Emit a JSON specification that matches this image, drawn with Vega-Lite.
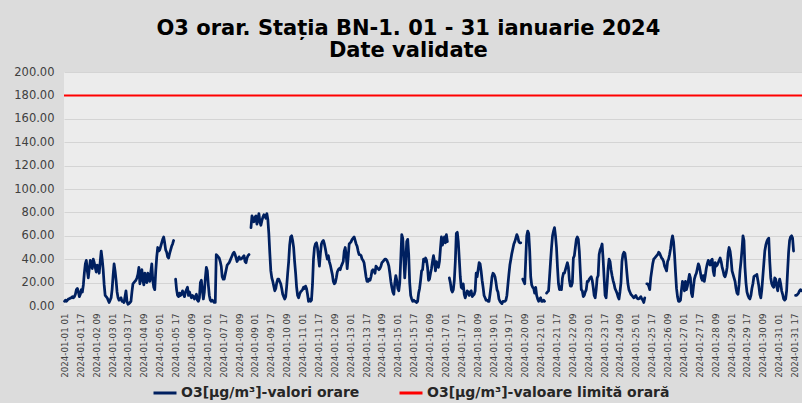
{
"$schema": "https://vega.github.io/schema/vega-lite/v6.json",
"width": 738,
"height": 234,
"autosize": {"type": "none"},
"padding": {"left": 64, "top": 72, "right": 0, "bottom": 97},
"background": "#dcdcdc",
"config": {"view": {"fill": "#ececec", "stroke": null}, "font": "DejaVu Sans"},
"title": {"text": ["O3 orar. Stația BN-1. 01 - 31 ianuarie 2024", "Date validate"], "font": "DejaVu Sans", "fontSize": 21, "fontWeight": "bold", "color": "#000000", "anchor": "middle", "frame": "bounds", "offset": 5, "lineHeight": 22},
"layer": [
{
"data": {"values": [
{"t":"2024-01-01 01","v":4},{"t":"2024-01-01 02","v":5},{"t":"2024-01-01 03","v":4},{"t":"2024-01-01 04","v":5},{"t":"2024-01-01 05","v":6},{"t":"2024-01-01 06","v":6},{"t":"2024-01-01 07","v":7},{"t":"2024-01-01 08","v":7},{"t":"2024-01-01 09","v":8},{"t":"2024-01-01 10","v":7},{"t":"2024-01-01 11","v":8},{"t":"2024-01-01 12","v":10},{"t":"2024-01-01 13","v":14},{"t":"2024-01-01 14","v":15},{"t":"2024-01-01 15","v":12},{"t":"2024-01-01 16","v":8},{"t":"2024-01-01 17","v":10},{"t":"2024-01-01 18","v":14},{"t":"2024-01-01 19","v":12},{"t":"2024-01-01 20","v":18},{"t":"2024-01-01 21","v":28},{"t":"2024-01-01 22","v":36},{"t":"2024-01-01 23","v":39},{"t":"2024-01-01 24","v":30},
{"t":"2024-01-02 01","v":24},{"t":"2024-01-02 02","v":32},{"t":"2024-01-02 03","v":39},{"t":"2024-01-02 04","v":36},{"t":"2024-01-02 05","v":32},{"t":"2024-01-02 06","v":40},{"t":"2024-01-02 07","v":37},{"t":"2024-01-02 08","v":33},{"t":"2024-01-02 09","v":29},{"t":"2024-01-02 10","v":35},{"t":"2024-01-02 11","v":34},{"t":"2024-01-02 12","v":28},{"t":"2024-01-02 13","v":38},{"t":"2024-01-02 14","v":47},{"t":"2024-01-02 15","v":40},{"t":"2024-01-02 16","v":31},{"t":"2024-01-02 17","v":18},{"t":"2024-01-02 18","v":9},{"t":"2024-01-02 19","v":8},{"t":"2024-01-02 20","v":7},{"t":"2024-01-02 21","v":5},{"t":"2024-01-02 22","v":3},{"t":"2024-01-02 23","v":5},{"t":"2024-01-02 24","v":7},
{"t":"2024-01-03 01","v":14},{"t":"2024-01-03 02","v":26},{"t":"2024-01-03 03","v":36},{"t":"2024-01-03 04","v":30},{"t":"2024-01-03 05","v":22},{"t":"2024-01-03 06","v":12},{"t":"2024-01-03 07","v":7},{"t":"2024-01-03 08","v":5},{"t":"2024-01-03 09","v":6},{"t":"2024-01-03 10","v":7},{"t":"2024-01-03 11","v":4},{"t":"2024-01-03 12","v":4},{"t":"2024-01-03 13","v":3},{"t":"2024-01-03 14","v":8},{"t":"2024-01-03 15","v":13},{"t":"2024-01-03 16","v":4},{"t":"2024-01-03 17","v":1.5},{"t":"2024-01-03 18","v":2},{"t":"2024-01-03 19","v":3},{"t":"2024-01-03 20","v":4},{"t":"2024-01-03 21","v":12},{"t":"2024-01-03 22","v":19},{"t":"2024-01-03 23","v":20},{"t":"2024-01-03 24","v":21},
{"t":"2024-01-04 01","v":22},{"t":"2024-01-04 02","v":24},{"t":"2024-01-04 03","v":27},{"t":"2024-01-04 04","v":33},{"t":"2024-01-04 05","v":19},{"t":"2024-01-04 06","v":24},{"t":"2024-01-04 07","v":31},{"t":"2024-01-04 08","v":22},{"t":"2024-01-04 09","v":18},{"t":"2024-01-04 10","v":28},{"t":"2024-01-04 11","v":24},{"t":"2024-01-04 12","v":20},{"t":"2024-01-04 13","v":28},{"t":"2024-01-04 14","v":26},{"t":"2024-01-04 15","v":21},{"t":"2024-01-04 16","v":29},{"t":"2024-01-04 17","v":36},{"t":"2024-01-04 18","v":22},{"t":"2024-01-04 19","v":16},{"t":"2024-01-04 20","v":14},{"t":"2024-01-04 21","v":30},{"t":"2024-01-04 22","v":42},{"t":"2024-01-04 23","v":50},{"t":"2024-01-04 24","v":47},
{"t":"2024-01-05 01","v":48},{"t":"2024-01-05 02","v":51},{"t":"2024-01-05 03","v":54},{"t":"2024-01-05 04","v":57},{"t":"2024-01-05 05","v":59},{"t":"2024-01-05 06","v":54},{"t":"2024-01-05 07","v":48},{"t":"2024-01-05 08","v":46},{"t":"2024-01-05 09","v":42},{"t":"2024-01-05 10","v":41},{"t":"2024-01-05 11","v":45},{"t":"2024-01-05 12","v":48},{"t":"2024-01-05 13","v":51},{"t":"2024-01-05 14","v":53},{"t":"2024-01-05 15","v":56},{"t":"2024-01-05 16","v":null},{"t":"2024-01-05 17","v":23},{"t":"2024-01-05 18","v":14},{"t":"2024-01-05 19","v":9},{"t":"2024-01-05 20","v":8},{"t":"2024-01-05 21","v":11},{"t":"2024-01-05 22","v":9},{"t":"2024-01-05 23","v":10},{"t":"2024-01-05 24","v":13},
{"t":"2024-01-06 01","v":10},{"t":"2024-01-06 02","v":8},{"t":"2024-01-06 03","v":12},{"t":"2024-01-06 04","v":14},{"t":"2024-01-06 05","v":16},{"t":"2024-01-06 06","v":9},{"t":"2024-01-06 07","v":12},{"t":"2024-01-06 08","v":9},{"t":"2024-01-06 09","v":7},{"t":"2024-01-06 10","v":9},{"t":"2024-01-06 11","v":8},{"t":"2024-01-06 12","v":6},{"t":"2024-01-06 13","v":8},{"t":"2024-01-06 14","v":10},{"t":"2024-01-06 15","v":5},{"t":"2024-01-06 16","v":4},{"t":"2024-01-06 17","v":7},{"t":"2024-01-06 18","v":20},{"t":"2024-01-06 19","v":22},{"t":"2024-01-06 20","v":13},{"t":"2024-01-06 21","v":6},{"t":"2024-01-06 22","v":12},{"t":"2024-01-06 23","v":24},{"t":"2024-01-06 24","v":33},
{"t":"2024-01-07 01","v":30},{"t":"2024-01-07 02","v":18},{"t":"2024-01-07 03","v":9},{"t":"2024-01-07 04","v":5},{"t":"2024-01-07 05","v":4},{"t":"2024-01-07 06","v":5},{"t":"2024-01-07 07","v":4},{"t":"2024-01-07 08","v":3},{"t":"2024-01-07 09","v":3},{"t":"2024-01-07 10","v":44},{"t":"2024-01-07 11","v":43},{"t":"2024-01-07 12","v":42},{"t":"2024-01-07 13","v":41},{"t":"2024-01-07 14","v":38},{"t":"2024-01-07 15","v":34},{"t":"2024-01-07 16","v":25},{"t":"2024-01-07 17","v":23},{"t":"2024-01-07 18","v":23},{"t":"2024-01-07 19","v":27},{"t":"2024-01-07 20","v":31},{"t":"2024-01-07 21","v":35},{"t":"2024-01-07 22","v":36},{"t":"2024-01-07 23","v":37},{"t":"2024-01-07 24","v":39},
{"t":"2024-01-08 01","v":41},{"t":"2024-01-08 02","v":43},{"t":"2024-01-08 03","v":45},{"t":"2024-01-08 04","v":46},{"t":"2024-01-08 05","v":44},{"t":"2024-01-08 06","v":41},{"t":"2024-01-08 07","v":38},{"t":"2024-01-08 08","v":40},{"t":"2024-01-08 09","v":42},{"t":"2024-01-08 10","v":40},{"t":"2024-01-08 11","v":40},{"t":"2024-01-08 12","v":41},{"t":"2024-01-08 13","v":42},{"t":"2024-01-08 14","v":43},{"t":"2024-01-08 15","v":38},{"t":"2024-01-08 16","v":37},{"t":"2024-01-08 17","v":41},{"t":"2024-01-08 18","v":43},{"t":"2024-01-08 19","v":44},{"t":"2024-01-08 20","v":null},{"t":"2024-01-08 21","v":67},{"t":"2024-01-08 22","v":77},{"t":"2024-01-08 23","v":73},{"t":"2024-01-08 24","v":72},
{"t":"2024-01-09 01","v":76},{"t":"2024-01-09 02","v":77},{"t":"2024-01-09 03","v":70},{"t":"2024-01-09 04","v":74},{"t":"2024-01-09 05","v":79},{"t":"2024-01-09 06","v":72},{"t":"2024-01-09 07","v":69},{"t":"2024-01-09 08","v":73},{"t":"2024-01-09 09","v":76},{"t":"2024-01-09 10","v":78},{"t":"2024-01-09 11","v":77},{"t":"2024-01-09 12","v":75},{"t":"2024-01-09 13","v":79},{"t":"2024-01-09 14","v":74},{"t":"2024-01-09 15","v":62},{"t":"2024-01-09 16","v":45},{"t":"2024-01-09 17","v":30},{"t":"2024-01-09 18","v":24},{"t":"2024-01-09 19","v":21},{"t":"2024-01-09 20","v":17},{"t":"2024-01-09 21","v":13},{"t":"2024-01-09 22","v":15},{"t":"2024-01-09 23","v":20},{"t":"2024-01-09 24","v":23},
{"t":"2024-01-10 01","v":23},{"t":"2024-01-10 02","v":21},{"t":"2024-01-10 03","v":19},{"t":"2024-01-10 04","v":15},{"t":"2024-01-10 05","v":10},{"t":"2024-01-10 06","v":8},{"t":"2024-01-10 07","v":6},{"t":"2024-01-10 08","v":8},{"t":"2024-01-10 09","v":17},{"t":"2024-01-10 10","v":28},{"t":"2024-01-10 11","v":38},{"t":"2024-01-10 12","v":52},{"t":"2024-01-10 13","v":59},{"t":"2024-01-10 14","v":60},{"t":"2024-01-10 15","v":56},{"t":"2024-01-10 16","v":50},{"t":"2024-01-10 17","v":38},{"t":"2024-01-10 18","v":28},{"t":"2024-01-10 19","v":16},{"t":"2024-01-10 20","v":9},{"t":"2024-01-10 21","v":7},{"t":"2024-01-10 22","v":10},{"t":"2024-01-10 23","v":12},{"t":"2024-01-10 24","v":13},
{"t":"2024-01-11 01","v":14},{"t":"2024-01-11 02","v":16},{"t":"2024-01-11 03","v":15},{"t":"2024-01-11 04","v":17},{"t":"2024-01-11 05","v":15},{"t":"2024-01-11 06","v":10},{"t":"2024-01-11 07","v":4},{"t":"2024-01-11 08","v":6},{"t":"2024-01-11 09","v":4},{"t":"2024-01-11 10","v":5},{"t":"2024-01-11 11","v":18},{"t":"2024-01-11 12","v":40},{"t":"2024-01-11 13","v":50},{"t":"2024-01-11 14","v":53},{"t":"2024-01-11 15","v":54},{"t":"2024-01-11 16","v":50},{"t":"2024-01-11 17","v":42},{"t":"2024-01-11 18","v":34},{"t":"2024-01-11 19","v":45},{"t":"2024-01-11 20","v":53},{"t":"2024-01-11 21","v":55},{"t":"2024-01-11 22","v":56},{"t":"2024-01-11 23","v":53},{"t":"2024-01-11 24","v":49},
{"t":"2024-01-12 01","v":44},{"t":"2024-01-12 02","v":40},{"t":"2024-01-12 03","v":43},{"t":"2024-01-12 04","v":38},{"t":"2024-01-12 05","v":35},{"t":"2024-01-12 06","v":31},{"t":"2024-01-12 07","v":27},{"t":"2024-01-12 08","v":21},{"t":"2024-01-12 09","v":19},{"t":"2024-01-12 10","v":20},{"t":"2024-01-12 11","v":24},{"t":"2024-01-12 12","v":29},{"t":"2024-01-12 13","v":31},{"t":"2024-01-12 14","v":32},{"t":"2024-01-12 15","v":31},{"t":"2024-01-12 16","v":34},{"t":"2024-01-12 17","v":36},{"t":"2024-01-12 18","v":38},{"t":"2024-01-12 19","v":47},{"t":"2024-01-12 20","v":50},{"t":"2024-01-12 21","v":43},{"t":"2024-01-12 22","v":32},{"t":"2024-01-12 23","v":42},{"t":"2024-01-12 24","v":53},
{"t":"2024-01-13 01","v":54},{"t":"2024-01-13 02","v":55},{"t":"2024-01-13 03","v":57},{"t":"2024-01-13 04","v":58},{"t":"2024-01-13 05","v":59},{"t":"2024-01-13 06","v":56},{"t":"2024-01-13 07","v":53},{"t":"2024-01-13 08","v":51},{"t":"2024-01-13 09","v":47},{"t":"2024-01-13 10","v":44},{"t":"2024-01-13 11","v":44},{"t":"2024-01-13 12","v":43},{"t":"2024-01-13 13","v":40},{"t":"2024-01-13 14","v":39},{"t":"2024-01-13 15","v":37},{"t":"2024-01-13 16","v":31},{"t":"2024-01-13 17","v":25},{"t":"2024-01-13 18","v":21},{"t":"2024-01-13 19","v":21},{"t":"2024-01-13 20","v":23},{"t":"2024-01-13 21","v":22},{"t":"2024-01-13 22","v":25},{"t":"2024-01-13 23","v":30},{"t":"2024-01-13 24","v":31},
{"t":"2024-01-14 01","v":30},{"t":"2024-01-14 02","v":28},{"t":"2024-01-14 03","v":34},{"t":"2024-01-14 04","v":33},{"t":"2024-01-14 05","v":32},{"t":"2024-01-14 06","v":31},{"t":"2024-01-14 07","v":32},{"t":"2024-01-14 08","v":34},{"t":"2024-01-14 09","v":37},{"t":"2024-01-14 10","v":38},{"t":"2024-01-14 11","v":39},{"t":"2024-01-14 12","v":40},{"t":"2024-01-14 13","v":40},{"t":"2024-01-14 14","v":39},{"t":"2024-01-14 15","v":37},{"t":"2024-01-14 16","v":34},{"t":"2024-01-14 17","v":28},{"t":"2024-01-14 18","v":21},{"t":"2024-01-14 19","v":16},{"t":"2024-01-14 20","v":12},{"t":"2024-01-14 21","v":10},{"t":"2024-01-14 22","v":20},{"t":"2024-01-14 23","v":26},{"t":"2024-01-14 24","v":22},
{"t":"2024-01-15 01","v":15},{"t":"2024-01-15 02","v":13},{"t":"2024-01-15 03","v":20},{"t":"2024-01-15 04","v":40},{"t":"2024-01-15 05","v":61},{"t":"2024-01-15 06","v":58},{"t":"2024-01-15 07","v":42},{"t":"2024-01-15 08","v":24},{"t":"2024-01-15 09","v":37},{"t":"2024-01-15 10","v":55},{"t":"2024-01-15 11","v":57},{"t":"2024-01-15 12","v":44},{"t":"2024-01-15 13","v":20},{"t":"2024-01-15 14","v":9},{"t":"2024-01-15 15","v":6},{"t":"2024-01-15 16","v":4},{"t":"2024-01-15 17","v":5},{"t":"2024-01-15 18","v":4},{"t":"2024-01-15 19","v":4},{"t":"2024-01-15 20","v":3},{"t":"2024-01-15 21","v":4},{"t":"2024-01-15 22","v":11},{"t":"2024-01-15 23","v":15},{"t":"2024-01-15 24","v":22},
{"t":"2024-01-16 01","v":30},{"t":"2024-01-16 02","v":31},{"t":"2024-01-16 03","v":40},{"t":"2024-01-16 04","v":38},{"t":"2024-01-16 05","v":41},{"t":"2024-01-16 06","v":39},{"t":"2024-01-16 07","v":33},{"t":"2024-01-16 08","v":22},{"t":"2024-01-16 09","v":23},{"t":"2024-01-16 10","v":28},{"t":"2024-01-16 11","v":32},{"t":"2024-01-16 12","v":38},{"t":"2024-01-16 13","v":43},{"t":"2024-01-16 14","v":38},{"t":"2024-01-16 15","v":30},{"t":"2024-01-16 16","v":38},{"t":"2024-01-16 17","v":36},{"t":"2024-01-16 18","v":33},{"t":"2024-01-16 19","v":38},{"t":"2024-01-16 20","v":49},{"t":"2024-01-16 21","v":59},{"t":"2024-01-16 22","v":52},{"t":"2024-01-16 23","v":55},{"t":"2024-01-16 24","v":59},
{"t":"2024-01-17 01","v":54},{"t":"2024-01-17 02","v":61},{"t":"2024-01-17 03","v":55},{"t":"2024-01-17 04","v":null},{"t":"2024-01-17 05","v":24},{"t":"2024-01-17 06","v":20},{"t":"2024-01-17 07","v":14},{"t":"2024-01-17 08","v":12},{"t":"2024-01-17 09","v":14},{"t":"2024-01-17 10","v":22},{"t":"2024-01-17 11","v":38},{"t":"2024-01-17 12","v":62},{"t":"2024-01-17 13","v":63},{"t":"2024-01-17 14","v":55},{"t":"2024-01-17 15","v":40},{"t":"2024-01-17 16","v":25},{"t":"2024-01-17 17","v":16},{"t":"2024-01-17 18","v":15},{"t":"2024-01-17 19","v":19},{"t":"2024-01-17 20","v":10},{"t":"2024-01-17 21","v":7},{"t":"2024-01-17 22","v":10},{"t":"2024-01-17 23","v":13},{"t":"2024-01-17 24","v":12},
{"t":"2024-01-18 01","v":9},{"t":"2024-01-18 02","v":12},{"t":"2024-01-18 03","v":13},{"t":"2024-01-18 04","v":8},{"t":"2024-01-18 05","v":9},{"t":"2024-01-18 06","v":10},{"t":"2024-01-18 07","v":13},{"t":"2024-01-18 08","v":28},{"t":"2024-01-18 09","v":25},{"t":"2024-01-18 10","v":31},{"t":"2024-01-18 11","v":37},{"t":"2024-01-18 12","v":36},{"t":"2024-01-18 13","v":30},{"t":"2024-01-18 14","v":22},{"t":"2024-01-18 15","v":16},{"t":"2024-01-18 16","v":9},{"t":"2024-01-18 17","v":7},{"t":"2024-01-18 18","v":5},{"t":"2024-01-18 19","v":5},{"t":"2024-01-18 20","v":4},{"t":"2024-01-18 21","v":4},{"t":"2024-01-18 22","v":10},{"t":"2024-01-18 23","v":17},{"t":"2024-01-18 24","v":25},
{"t":"2024-01-19 01","v":28},{"t":"2024-01-19 02","v":27},{"t":"2024-01-19 03","v":25},{"t":"2024-01-19 04","v":20},{"t":"2024-01-19 05","v":14},{"t":"2024-01-19 06","v":12},{"t":"2024-01-19 07","v":6},{"t":"2024-01-19 08","v":4},{"t":"2024-01-19 09","v":3},{"t":"2024-01-19 10","v":2},{"t":"2024-01-19 11","v":4},{"t":"2024-01-19 12","v":4},{"t":"2024-01-19 13","v":4},{"t":"2024-01-19 14","v":5},{"t":"2024-01-19 15","v":9},{"t":"2024-01-19 16","v":18},{"t":"2024-01-19 17","v":27},{"t":"2024-01-19 18","v":35},{"t":"2024-01-19 19","v":40},{"t":"2024-01-19 20","v":45},{"t":"2024-01-19 21","v":49},{"t":"2024-01-19 22","v":53},{"t":"2024-01-19 23","v":55},{"t":"2024-01-19 24","v":58},
{"t":"2024-01-20 01","v":61},{"t":"2024-01-20 02","v":59},{"t":"2024-01-20 03","v":55},{"t":"2024-01-20 04","v":54},{"t":"2024-01-20 05","v":54},{"t":"2024-01-20 06","v":null},{"t":"2024-01-20 07","v":23},{"t":"2024-01-20 08","v":21},{"t":"2024-01-20 09","v":19},{"t":"2024-01-20 10","v":40},{"t":"2024-01-20 11","v":60},{"t":"2024-01-20 12","v":64},{"t":"2024-01-20 13","v":62},{"t":"2024-01-20 14","v":47},{"t":"2024-01-20 15","v":25},{"t":"2024-01-20 16","v":18},{"t":"2024-01-20 17","v":16},{"t":"2024-01-20 18","v":15},{"t":"2024-01-20 19","v":11},{"t":"2024-01-20 20","v":16},{"t":"2024-01-20 21","v":9},{"t":"2024-01-20 22","v":6},{"t":"2024-01-20 23","v":4},{"t":"2024-01-20 24","v":6},
{"t":"2024-01-21 01","v":7},{"t":"2024-01-21 02","v":4},{"t":"2024-01-21 03","v":4},{"t":"2024-01-21 04","v":5},{"t":"2024-01-21 05","v":4},{"t":"2024-01-21 06","v":null},{"t":"2024-01-21 07","v":11},{"t":"2024-01-21 08","v":12},{"t":"2024-01-21 09","v":13},{"t":"2024-01-21 10","v":25},{"t":"2024-01-21 11","v":38},{"t":"2024-01-21 12","v":50},{"t":"2024-01-21 13","v":60},{"t":"2024-01-21 14","v":64},{"t":"2024-01-21 15","v":67},{"t":"2024-01-21 16","v":60},{"t":"2024-01-21 17","v":50},{"t":"2024-01-21 18","v":33},{"t":"2024-01-21 19","v":19},{"t":"2024-01-21 20","v":14},{"t":"2024-01-21 21","v":16},{"t":"2024-01-21 22","v":14},{"t":"2024-01-21 23","v":24},{"t":"2024-01-21 24","v":28},
{"t":"2024-01-22 01","v":28},{"t":"2024-01-22 02","v":31},{"t":"2024-01-22 03","v":34},{"t":"2024-01-22 04","v":37},{"t":"2024-01-22 05","v":33},{"t":"2024-01-22 06","v":22},{"t":"2024-01-22 07","v":17},{"t":"2024-01-22 08","v":17},{"t":"2024-01-22 09","v":20},{"t":"2024-01-22 10","v":41},{"t":"2024-01-22 11","v":43},{"t":"2024-01-22 12","v":50},{"t":"2024-01-22 13","v":57},{"t":"2024-01-22 14","v":59},{"t":"2024-01-22 15","v":57},{"t":"2024-01-22 16","v":47},{"t":"2024-01-22 17","v":30},{"t":"2024-01-22 18","v":14},{"t":"2024-01-22 19","v":13},{"t":"2024-01-22 20","v":8},{"t":"2024-01-22 21","v":9},{"t":"2024-01-22 22","v":12},{"t":"2024-01-22 23","v":14},{"t":"2024-01-22 24","v":21},
{"t":"2024-01-23 01","v":21},{"t":"2024-01-23 02","v":23},{"t":"2024-01-23 03","v":24},{"t":"2024-01-23 04","v":25},{"t":"2024-01-23 05","v":22},{"t":"2024-01-23 06","v":16},{"t":"2024-01-23 07","v":9},{"t":"2024-01-23 08","v":7},{"t":"2024-01-23 09","v":14},{"t":"2024-01-23 10","v":24},{"t":"2024-01-23 11","v":26},{"t":"2024-01-23 12","v":44},{"t":"2024-01-23 13","v":48},{"t":"2024-01-23 14","v":50},{"t":"2024-01-23 15","v":53},{"t":"2024-01-23 16","v":40},{"t":"2024-01-23 17","v":24},{"t":"2024-01-23 18","v":9},{"t":"2024-01-23 19","v":7},{"t":"2024-01-23 20","v":18},{"t":"2024-01-23 21","v":32},{"t":"2024-01-23 22","v":40},{"t":"2024-01-23 23","v":38},{"t":"2024-01-23 24","v":31},
{"t":"2024-01-24 01","v":26},{"t":"2024-01-24 02","v":22},{"t":"2024-01-24 03","v":19},{"t":"2024-01-24 04","v":15},{"t":"2024-01-24 05","v":13},{"t":"2024-01-24 06","v":11},{"t":"2024-01-24 07","v":8},{"t":"2024-01-24 08","v":6},{"t":"2024-01-24 09","v":12},{"t":"2024-01-24 10","v":20},{"t":"2024-01-24 11","v":38},{"t":"2024-01-24 12","v":44},{"t":"2024-01-24 13","v":46},{"t":"2024-01-24 14","v":45},{"t":"2024-01-24 15","v":38},{"t":"2024-01-24 16","v":28},{"t":"2024-01-24 17","v":19},{"t":"2024-01-24 18","v":14},{"t":"2024-01-24 19","v":12},{"t":"2024-01-24 20","v":10},{"t":"2024-01-24 21","v":9},{"t":"2024-01-24 22","v":8},{"t":"2024-01-24 23","v":7},{"t":"2024-01-24 24","v":8},
{"t":"2024-01-25 01","v":9},{"t":"2024-01-25 02","v":7},{"t":"2024-01-25 03","v":6},{"t":"2024-01-25 04","v":6},{"t":"2024-01-25 05","v":7},{"t":"2024-01-25 06","v":8},{"t":"2024-01-25 07","v":6},{"t":"2024-01-25 08","v":5},{"t":"2024-01-25 09","v":3},{"t":"2024-01-25 10","v":7},{"t":"2024-01-25 11","v":null},{"t":"2024-01-25 12","v":19},{"t":"2024-01-25 13","v":19},{"t":"2024-01-25 14","v":17},{"t":"2024-01-25 15","v":14},{"t":"2024-01-25 16","v":24},{"t":"2024-01-25 17","v":30},{"t":"2024-01-25 18","v":36},{"t":"2024-01-25 19","v":40},{"t":"2024-01-25 20","v":41},{"t":"2024-01-25 21","v":42},{"t":"2024-01-25 22","v":43},{"t":"2024-01-25 23","v":44},{"t":"2024-01-25 24","v":46},
{"t":"2024-01-26 01","v":45},{"t":"2024-01-26 02","v":43},{"t":"2024-01-26 03","v":41},{"t":"2024-01-26 04","v":40},{"t":"2024-01-26 05","v":38},{"t":"2024-01-26 06","v":34},{"t":"2024-01-26 07","v":32},{"t":"2024-01-26 08","v":30},{"t":"2024-01-26 09","v":38},{"t":"2024-01-26 10","v":40},{"t":"2024-01-26 11","v":44},{"t":"2024-01-26 12","v":49},{"t":"2024-01-26 13","v":56},{"t":"2024-01-26 14","v":60},{"t":"2024-01-26 15","v":55},{"t":"2024-01-26 16","v":44},{"t":"2024-01-26 17","v":29},{"t":"2024-01-26 18","v":15},{"t":"2024-01-26 19","v":8},{"t":"2024-01-26 20","v":4},{"t":"2024-01-26 21","v":4},{"t":"2024-01-26 22","v":5},{"t":"2024-01-26 23","v":14},{"t":"2024-01-26 24","v":21},
{"t":"2024-01-27 01","v":19},{"t":"2024-01-27 02","v":13},{"t":"2024-01-27 03","v":21},{"t":"2024-01-27 04","v":14},{"t":"2024-01-27 05","v":17},{"t":"2024-01-27 06","v":22},{"t":"2024-01-27 07","v":27},{"t":"2024-01-27 08","v":24},{"t":"2024-01-27 09","v":11},{"t":"2024-01-27 10","v":8},{"t":"2024-01-27 11","v":16},{"t":"2024-01-27 12","v":23},{"t":"2024-01-27 13","v":26},{"t":"2024-01-27 14","v":28},{"t":"2024-01-27 15","v":32},{"t":"2024-01-27 16","v":36},{"t":"2024-01-27 17","v":34},{"t":"2024-01-27 18","v":29},{"t":"2024-01-27 19","v":24},{"t":"2024-01-27 20","v":22},{"t":"2024-01-27 21","v":26},{"t":"2024-01-27 22","v":21},{"t":"2024-01-27 23","v":26},{"t":"2024-01-27 24","v":32},
{"t":"2024-01-28 01","v":36},{"t":"2024-01-28 02","v":39},{"t":"2024-01-28 03","v":36},{"t":"2024-01-28 04","v":35},{"t":"2024-01-28 05","v":39},{"t":"2024-01-28 06","v":40},{"t":"2024-01-28 07","v":30},{"t":"2024-01-28 08","v":26},{"t":"2024-01-28 09","v":37},{"t":"2024-01-28 10","v":34},{"t":"2024-01-28 11","v":35},{"t":"2024-01-28 12","v":37},{"t":"2024-01-28 13","v":39},{"t":"2024-01-28 14","v":41},{"t":"2024-01-28 15","v":38},{"t":"2024-01-28 16","v":33},{"t":"2024-01-28 17","v":30},{"t":"2024-01-28 18","v":26},{"t":"2024-01-28 19","v":25},{"t":"2024-01-28 20","v":28},{"t":"2024-01-28 21","v":33},{"t":"2024-01-28 22","v":45},{"t":"2024-01-28 23","v":50},{"t":"2024-01-28 24","v":47},
{"t":"2024-01-29 01","v":40},{"t":"2024-01-29 02","v":30},{"t":"2024-01-29 03","v":27},{"t":"2024-01-29 04","v":24},{"t":"2024-01-29 05","v":21},{"t":"2024-01-29 06","v":15},{"t":"2024-01-29 07","v":11},{"t":"2024-01-29 08","v":10},{"t":"2024-01-29 09","v":18},{"t":"2024-01-29 10","v":30},{"t":"2024-01-29 11","v":38},{"t":"2024-01-29 12","v":48},{"t":"2024-01-29 13","v":60},{"t":"2024-01-29 14","v":56},{"t":"2024-01-29 15","v":33},{"t":"2024-01-29 16","v":20},{"t":"2024-01-29 17","v":12},{"t":"2024-01-29 18","v":9},{"t":"2024-01-29 19","v":7},{"t":"2024-01-29 20","v":6},{"t":"2024-01-29 21","v":9},{"t":"2024-01-29 22","v":15},{"t":"2024-01-29 23","v":19},{"t":"2024-01-29 24","v":25},
{"t":"2024-01-30 01","v":26},{"t":"2024-01-30 02","v":26},{"t":"2024-01-30 03","v":27},{"t":"2024-01-30 04","v":22},{"t":"2024-01-30 05","v":17},{"t":"2024-01-30 06","v":10},{"t":"2024-01-30 07","v":7},{"t":"2024-01-30 08","v":14},{"t":"2024-01-30 09","v":25},{"t":"2024-01-30 10","v":36},{"t":"2024-01-30 11","v":47},{"t":"2024-01-30 12","v":52},{"t":"2024-01-30 13","v":55},{"t":"2024-01-30 14","v":57},{"t":"2024-01-30 15","v":58},{"t":"2024-01-30 16","v":38},{"t":"2024-01-30 17","v":24},{"t":"2024-01-30 18","v":19},{"t":"2024-01-30 19","v":17},{"t":"2024-01-30 20","v":16},{"t":"2024-01-30 21","v":24},{"t":"2024-01-30 22","v":23},{"t":"2024-01-30 23","v":17},{"t":"2024-01-30 24","v":13},
{"t":"2024-01-31 01","v":19},{"t":"2024-01-31 02","v":23},{"t":"2024-01-31 03","v":19},{"t":"2024-01-31 04","v":13},{"t":"2024-01-31 05","v":10},{"t":"2024-01-31 06","v":6},{"t":"2024-01-31 07","v":5},{"t":"2024-01-31 08","v":6},{"t":"2024-01-31 09","v":13},{"t":"2024-01-31 10","v":30},{"t":"2024-01-31 11","v":46},{"t":"2024-01-31 12","v":56},{"t":"2024-01-31 13","v":59},{"t":"2024-01-31 14","v":60},{"t":"2024-01-31 15","v":58},{"t":"2024-01-31 16","v":47},{"t":"2024-01-31 17","v":null},{"t":"2024-01-31 18","v":9},{"t":"2024-01-31 19","v":9},{"t":"2024-01-31 20","v":10},{"t":"2024-01-31 21","v":11},{"t":"2024-01-31 22","v":13},{"t":"2024-01-31 23","v":14},{"t":"2024-01-31 24","v":13}
]},
"mark": {"type": "line", "strokeWidth": 2.75, "strokeJoin": "round", "strokeCap": "round", "invalid": "break-paths-show-domains"},
"encoding": {
"x": {"field": "t", "type": "ordinal", "sort": null, "scale": {"type": "point", "padding": 0.5},
"axis": {"title": null, "values": ["2024-01-01 01","2024-01-01 17","2024-01-02 09","2024-01-03 01","2024-01-03 17","2024-01-04 09","2024-01-05 01","2024-01-05 17","2024-01-06 09","2024-01-07 01","2024-01-07 17","2024-01-08 09","2024-01-09 01","2024-01-09 17","2024-01-10 09","2024-01-11 01","2024-01-11 17","2024-01-12 09","2024-01-13 01","2024-01-13 17","2024-01-14 09","2024-01-15 01","2024-01-15 17","2024-01-16 09","2024-01-17 01","2024-01-17 17","2024-01-18 09","2024-01-19 01","2024-01-19 17","2024-01-20 09","2024-01-21 01","2024-01-21 17","2024-01-22 09","2024-01-23 01","2024-01-23 17","2024-01-24 09","2024-01-25 01","2024-01-25 17","2024-01-26 09","2024-01-27 01","2024-01-27 17","2024-01-28 09","2024-01-29 01","2024-01-29 17","2024-01-30 09","2024-01-31 01","2024-01-31 17"],
"labelAngle": -90, "labelFont": "DejaVu Sans", "labelFontSize": 8.7, "labelColor": "#404040", "ticks": false, "domain": false, "grid": false, "labelPadding": 7, "labelOverlap": false, "labelBound": false, "labelFlush": false}},
"y": {"field": "v", "type": "quantitative", "scale": {"domain": [0, 200], "nice": false},
"axis": {"title": null, "values": [0,20,40,60,80,100,120,140,160,180,200], "format": ".2f", "labelFont": "DejaVu Sans", "labelFontSize": 11.5, "labelColor": "#404040", "ticks": false, "domain": false, "grid": true, "gridColor": "#d4d4d4", "gridWidth": 1, "labelPadding": 10, "labelOverlap": false, "labelBound": false, "labelFlush": false}},
"color": {"datum": "O3[µg/m³]-valori orare",
"scale": {"domain": ["O3[µg/m³]-valori orare", "O3[µg/m³]-valoare limită orară"], "range": ["#002060", "#ff0000"]},
"legend": {"title": null, "orient": "none", "legendX": 88, "legendY": 308, "direction": "horizontal", "symbolType": "stroke", "symbolStrokeWidth": 3, "symbolSize": 529, "labelFont": "DejaVu Sans", "labelFontSize": 14, "labelFontWeight": "bold", "labelColor": "#262626", "labelOffset": 3, "labelLimit": 400, "columnPadding": 33, "padding": 0}}
}
},
{
"data": {"values": [{"limita": 180}]},
"mark": {"type": "rule", "strokeWidth": 2},
"encoding": {
"y": {"field": "limita", "type": "quantitative", "scale": {"domain": [0, 200], "nice": false},
"axis": {"title": null, "values": [0,20,40,60,80,100,120,140,160,180,200], "format": ".2f", "labelFont": "DejaVu Sans", "labelFontSize": 11.5, "labelColor": "#404040", "ticks": false, "domain": false, "grid": true, "gridColor": "#d4d4d4", "gridWidth": 1, "labelPadding": 10, "labelOverlap": false, "labelBound": false, "labelFlush": false}},
"color": {"datum": "O3[µg/m³]-valoare limită orară"}
}
}
]
}
